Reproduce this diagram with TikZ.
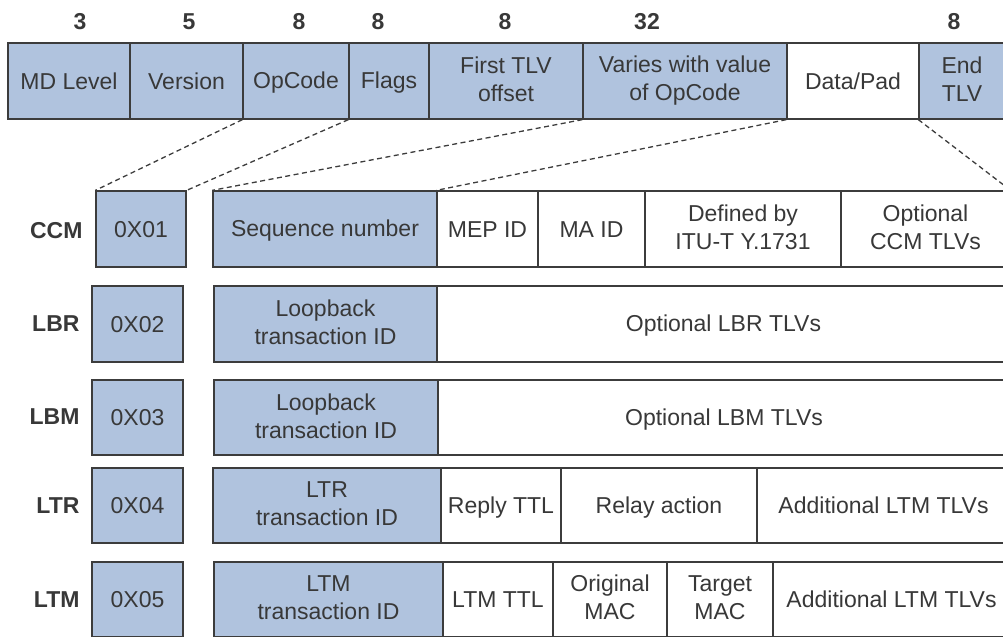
\documentclass[tikz,border=0pt]{standalone}
\usepackage{fontspec}
\setmainfont{Liberation Sans}
\usetikzlibrary{positioning}
\definecolor{fieldblue}{HTML}{B0C3DE}
\definecolor{edge}{HTML}{3C3C3C}
\definecolor{ink}{HTML}{383838}
% invisible rules that give every line of field text the same height and depth
\newcommand\topstrut{\rule{0pt}{20pt}}
\newcommand\botstrut{\rule[-3.5pt]{0pt}{3.5pt}}
\tikzset{
  field/.style={draw=edge, line width=1.3pt, inner sep=0pt, align=center,
    text=ink, font=\fontsize{23}{28}\selectfont,
    execute at begin node=\topstrut, execute at end node=\botstrut},
  opfield/.style={field, fill=fieldblue},
  datafield/.style={field, fill=white},
  bitcount/.style={text=ink, font=\fontsize{23}{28}\selectfont\bfseries},
  rowname/.style={text=ink, anchor=east, font=\fontsize{23}{28}\selectfont\bfseries},
  zoomline/.style={draw=edge, line width=1.3pt, dash pattern=on 5pt off 3.5pt}
}
% \fieldbox{style}{name}{x1}{x2}{y1}{y2}{text}
\newcommand\fieldbox[7]{%
  \node[#1, minimum width={(#4-#3)*1pt}, minimum height={(#6-#5)*1pt}]
    (#2) at ({(#3+#4)/2},{(#5+#6)/2}) {#7};}
\begin{document}
\begin{tikzpicture}[x=1pt,y=-1pt]
\useasboundingbox (0,0) rectangle (1003,638);

% bit widths
\node[bitcount] (b1) at (80,22) {3};
\node[bitcount] (b2) at (189,22) {5};
\node[bitcount] (b3) at (299,22) {8};
\node[bitcount] (b4) at (378,22) {8};
\node[bitcount] (b5) at (505,22) {8};
\node[bitcount] (b6) at (647,22) {32};
\node[bitcount] (b7) at (954,22) {8};

% common header
\fieldbox{opfield}{mdl}{8}{130}{43}{119}{MD Level}
\fieldbox{opfield}{ver}{130}{243}{43}{119}{Version}
\fieldbox{opfield}{opc}{243}{349}{43}{119}{OpCode}
\fieldbox{opfield}{flg}{349}{429}{43}{119}{Flags}
\fieldbox{opfield}{ftlv}{429}{583}{43}{119}{First TLV\\offset}
\fieldbox{opfield}{var}{583}{787}{43}{119}{Varies with value\\of OpCode}
\fieldbox{datafield}{dat}{787}{919}{43}{119}{Data/Pad}
\fieldbox{opfield}{etlv}{919}{1005}{43}{119}{End\\TLV}

% CCM
\node[rowname] (nccm) at (86,231) {CCM};
\fieldbox{opfield}{c1}{96}{186}{191}{267}{0X01}
\fieldbox{opfield}{c2}{213}{437}{191}{267}{Sequence number}
\fieldbox{datafield}{c3}{437}{538}{191}{267}{MEP ID}
\fieldbox{datafield}{c4}{538}{645}{191}{267}{MA ID}
\fieldbox{datafield}{c5}{645}{841}{191}{267}{Defined by\\ITU-T Y.1731}
\fieldbox{datafield}{c6}{841}{1010}{191}{267}{Optional\\CCM TLVs}

% LBR
\node[rowname] (nlbr) at (83,324) {LBR};
\fieldbox{opfield}{r1}{92}{183}{286}{362}{0X02}
\fieldbox{opfield}{r2}{214}{437}{286}{362}{Loopback\\transaction ID}
\fieldbox{datafield}{r3}{437}{1010}{286}{362}{Optional LBR TLVs}

% LBM
\node[rowname] (nlbm) at (83,417) {LBM};
\fieldbox{opfield}{m1}{92}{183}{380}{455}{0X03}
\fieldbox{opfield}{m2}{214}{438}{380}{455}{Loopback\\transaction ID}
\fieldbox{datafield}{m3}{438}{1010}{380}{455}{Optional LBM TLVs}

% LTR
\node[rowname] (nltr) at (83,506) {LTR};
\fieldbox{opfield}{t1}{92}{183}{468}{543}{0X04}
\fieldbox{opfield}{t2}{213}{441}{468}{543}{LTR\\transaction ID}
\fieldbox{datafield}{t3}{441}{561}{468}{543}{Reply TTL}
\fieldbox{datafield}{t4}{561}{757}{468}{543}{Relay action}
\fieldbox{datafield}{t5}{757}{1010}{468}{543}{Additional LTM TLVs}

% LTM
\node[rowname] (nltm) at (83,600) {LTM};
\fieldbox{opfield}{u1}{92}{183}{562}{636.5}{0X05}
\fieldbox{opfield}{u2}{214}{443}{562}{636.5}{LTM\\transaction ID}
\fieldbox{datafield}{u3}{443}{553}{562}{636.5}{LTM TTL}
\fieldbox{datafield}{u4}{553}{667}{562}{636.5}{Original\\MAC}
\fieldbox{datafield}{u5}{667}{773}{562}{636.5}{Target\\MAC}
\fieldbox{datafield}{u6}{773}{1010}{562}{636.5}{Additional LTM TLVs}

% expansion of the OpCode-dependent fields
\draw[zoomline] (opc.south west) -- (c1.north west);
\draw[zoomline] (flg.south west) -- (c1.north east);
\draw[zoomline] (var.south west) -- (c2.north west);
\draw[zoomline] (dat.south west) -- (c3.north west);
\draw[zoomline] (etlv.south west) -- (c6.north east);
\end{tikzpicture}
\end{document}
